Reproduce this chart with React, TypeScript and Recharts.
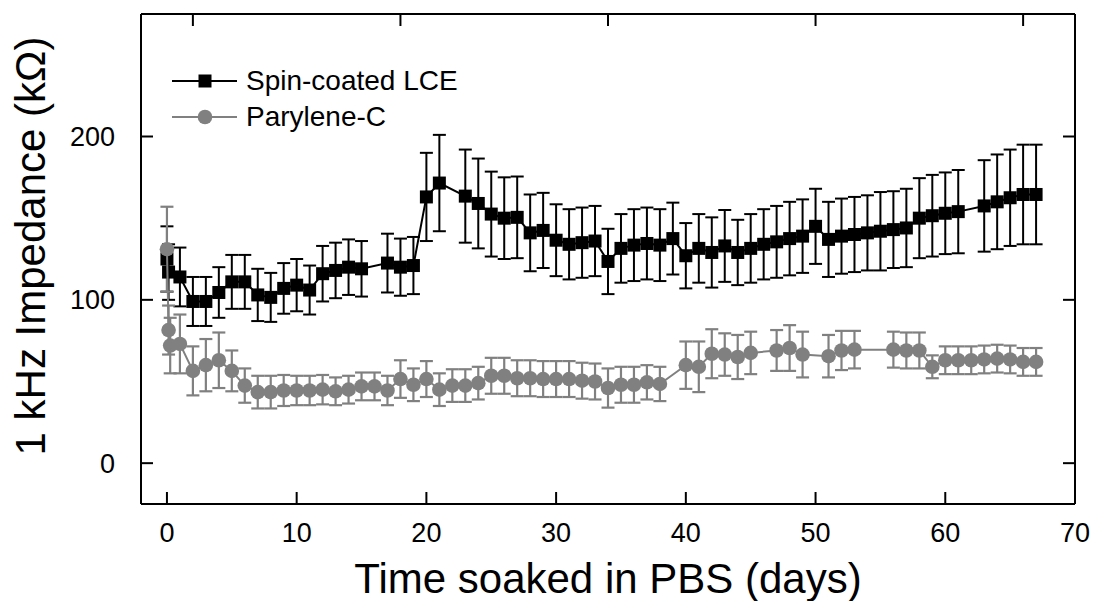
import React from "react";
import { ScatterChart, Scatter, XAxis, YAxis, ErrorBar, Legend } from "recharts";

const FONT = "'Liberation Sans', Arial, Helvetica, sans-serif";
const GRAY = "#808080";

// Spin-coated LCE (black squares)
const lceDays = [
  0, 0.125, 1, 2, 3, 4, 5, 6, 7, 8, 9, 10, 11, 12, 13, 14, 15, 17, 18, 19, 20, 21,
  23, 24, 25, 26, 27, 28, 29, 30, 31, 32, 33, 34, 35, 36, 37, 38, 39, 40, 41, 42,
  43, 44, 45, 46, 47, 48, 49, 50, 51, 52, 53, 54, 55, 56, 57, 58, 59, 60, 61,
  63, 64, 65, 66, 67,
];
const lceValues = [
  125, 117, 114, 99, 99, 104.5, 111, 111, 103, 101.5, 107, 109, 106, 116, 118, 120, 119, 122.5, 120, 121, 163, 171.5,
  163.5, 159, 152.5, 150, 150.5, 141, 142.5, 136.5, 134, 135, 136, 123.5, 131.5, 133.5, 134.5, 133.5, 137.5, 127, 131.5, 129,
  133, 129, 131.5, 134, 135.5, 137.5, 139, 145, 137, 139, 140, 141, 142, 143, 144, 150, 151.5, 153, 154,
  157.5, 160, 162.5, 164.5, 164.5,
];
const lceErrors = [
  20, 17, 18, 15, 15, 15.5, 16.5, 16.5, 16, 15, 15.5, 16, 15, 17, 17, 17, 17, 18, 17.5, 17.5, 27, 29.5,
  28.5, 27.5, 26, 25, 25, 23.5, 23, 22, 21.5, 21.5, 21.5, 20, 21, 22, 22, 22, 22, 20, 21, 21.5,
  22, 20, 21, 21.5, 22, 22.5, 22.5, 23, 23, 23, 23, 23, 24, 23.5, 24, 24.5, 25, 25, 25.5,
  28, 29, 29.5, 30.5, 30.5,
];

// Parylene-C (gray circles)
const parDays = [
  0, 0.125, 0.25, 1, 2, 3, 4, 5, 6, 7, 8, 9, 10, 11, 12, 13, 14, 15, 16, 17, 18, 19, 20,
  21, 22, 23, 24, 25, 26, 27, 28, 29, 30, 31, 32, 33, 34, 35, 36, 37, 38, 40, 41, 42,
  43, 44, 45, 47, 48, 49, 51, 52, 53, 56, 57, 58, 59, 60, 61, 62, 63, 64, 65, 66, 67,
];
const parValues = [
  131, 81.5, 72, 73, 56.5, 60, 63, 56.5, 47.5, 43.5, 43.5, 44.5, 44.5, 44.5, 45, 44, 45, 47, 47, 44.5, 51.5, 48, 51.5,
  45, 47.5, 47.5, 49, 53.5, 53.5, 52, 52, 51.5, 51.5, 51.5, 50.5, 50, 46, 48, 48, 49.5, 48.5, 60, 59, 67,
  66.5, 65, 67.5, 69, 70.5, 66.5, 65.5, 69, 69.5, 69.5, 69, 69, 59, 63, 63, 63, 63.5, 64, 63.5, 62, 62,
];
const parErrors = [
  26, 15, 17, 18, 15, 16, 17, 12.5, 10.5, 10, 10, 9.5, 9, 9, 9, 8.5, 8.5, 8.5, 8.5, 9, 11.5, 10, 11,
  10, 10, 10, 10, 11, 11, 11, 11, 11, 11, 11, 11, 11, 12, 11, 11, 10.5, 10.5, 14.5, 15.5, 15,
  13, 13.5, 13, 12.5, 14, 14, 13, 12, 11.5, 11, 11, 11, 7, 8.5, 8.5, 8.5, 8.5, 8.5, 8.5, 8.5, 8.5,
];

const xTicks = [0, 10, 20, 30, 40, 50, 60, 70];
const topTicks = [2, 18, 34, 50, 66];
const yTicks = [0, 100, 200];

const lceData = lceDays.map((day, i) => ({ day, value: lceValues[i], err: lceErrors[i] }));
const parData = parDays.map((day, i) => ({ day, value: parValues[i], err: parErrors[i] }));

const axisLine = { stroke: "#000", strokeWidth: 2 };
const TICK_LEN = 12;
const X_MARGIN = 19;
const Y_MARGIN = 26;

// inward tick marks drawn with the labels
const BottomTick = (p: any) => (
  <g>
    <line x1={p.x} x2={p.x} y1={p.y - X_MARGIN} y2={p.y - X_MARGIN - TICK_LEN} stroke="#000" strokeWidth={2} />
    <text x={p.x} y={p.y} dy="0.71em" textAnchor="middle" fontSize={27} fontFamily={FONT} fill="#000">
      {p.payload.value}
    </text>
  </g>
);
const LeftTick = (p: any) => (
  <g>
    <line x1={p.x + Y_MARGIN} x2={p.x + Y_MARGIN + TICK_LEN} y1={p.y} y2={p.y} stroke="#000" strokeWidth={2} />
    <text x={p.x} y={p.y} dy="0.355em" textAnchor="end" fontSize={27} fontFamily={FONT} fill="#000">
      {p.payload.value}
    </text>
  </g>
);
const TopTick = (p: any) => (
  <line x1={p.x} x2={p.x} y1={p.y} y2={p.y + TICK_LEN} stroke="#000" strokeWidth={2} />
);
const RightTick = (p: any) => (
  <line x1={p.x} x2={p.x - TICK_LEN} y1={p.y} y2={p.y} stroke="#000" strokeWidth={2} />
);

const SquareDot = (p: any) => <rect x={p.cx - 6.5} y={p.cy - 6.5} width={13} height={13} fill="#000" />;
const CircleDot = (p: any) => <circle cx={p.cx} cy={p.cy} r={7.3} fill={GRAY} />;

const renderLegend = () => (
  <div style={{ fontFamily: FONT, fontSize: 28, color: "#000" }}>
    <div style={{ display: "flex", alignItems: "center", height: 36 }}>
      <svg width={74} height={36}>
        <line x1={0} x2={65} y1={18} y2={18} stroke="#000" strokeWidth={2} />
        <rect x={26.5} y={11.5} width={13} height={13} fill="#000" />
      </svg>
      <span>Spin-coated LCE</span>
    </div>
    <div style={{ display: "flex", alignItems: "center", height: 36 }}>
      <svg width={74} height={36}>
        <line x1={0} x2={65} y1={18} y2={18} stroke={GRAY} strokeWidth={2} />
        <circle cx={33} cy={18} r={7.3} fill={GRAY} />
      </svg>
      <span>Parylene-C</span>
    </div>
  </div>
);

export default function App() {
  return (
    <div style={{ position: "absolute", left: 0, top: 0, width: 1093, height: 601, overflow: "hidden", background: "#fff" }}>
      <ScatterChart
        width={1093}
        height={601}
        margin={{ top: 13, right: 17, bottom: 0, left: 0 }}
        style={{ fontFamily: FONT }}
      >
        <XAxis
          xAxisId="bottom"
          dataKey="day"
          type="number"
          domain={[-2, 70]}
          ticks={xTicks}
          allowDataOverflow
          orientation="bottom"
          height={97}
          axisLine={axisLine}
          tickLine={false}
          tickSize={0}
          tickMargin={X_MARGIN}
          tick={BottomTick}
          label={{
            content: () => (
              <text x={608} y={593} textAnchor="middle" fontSize={42} fontFamily={FONT} fill="#000">
                Time soaked in PBS (days)
              </text>
            ),
          }}
        />
        <XAxis
          xAxisId="top"
          dataKey="day"
          type="number"
          domain={[-2, 70]}
          ticks={topTicks}
          allowDataOverflow
          orientation="top"
          height={1}
          axisLine={axisLine}
          tickLine={false}
          tickSize={0}
          tickMargin={0}
          tick={TopTick}
        />
        <YAxis
          yAxisId="left"
          dataKey="value"
          type="number"
          domain={[-25, 275]}
          ticks={yTicks}
          allowDataOverflow
          orientation="left"
          width={141}
          axisLine={axisLine}
          tickLine={false}
          tickSize={0}
          tickMargin={Y_MARGIN}
          tick={LeftTick}
          label={{
            content: () => (
              <text
                x={45}
                y={246}
                transform="rotate(-90, 45, 246)"
                textAnchor="middle"
                fontSize={42}
                fontFamily={FONT}
                fill="#000"
              >
                1 kHz Impedance (kΩ)
              </text>
            ),
          }}
        />
        <YAxis
          yAxisId="right"
          dataKey="value"
          type="number"
          domain={[-25, 275]}
          ticks={yTicks}
          allowDataOverflow
          orientation="right"
          width={1}
          axisLine={axisLine}
          tickLine={false}
          tickSize={0}
          tickMargin={0}
          tick={RightTick}
        />
        <Legend
          content={renderLegend}
          layout="horizontal"
          verticalAlign="middle"
          wrapperStyle={{ left: 172, top: 63, width: "auto" }}
        />
        <Scatter
          name="Spin-coated LCE"
          data={lceData}
          xAxisId="bottom"
          yAxisId="left"
          fill="#000"
          shape={SquareDot}
          line={{ stroke: "#000", strokeWidth: 2 }}
          isAnimationActive={false}
        >
          <ErrorBar dataKey="err" direction="y" width={6.5} stroke="#000" strokeWidth={2} isAnimationActive={false} />
        </Scatter>
        <Scatter
          name="Parylene-C"
          data={parData}
          xAxisId="top"
          yAxisId="right"
          fill={GRAY}
          shape={CircleDot}
          line={{ stroke: GRAY, strokeWidth: 2 }}
          isAnimationActive={false}
        >
          <ErrorBar dataKey="err" direction="y" width={6.5} stroke={GRAY} strokeWidth={2.2} isAnimationActive={false} />
        </Scatter>
      </ScatterChart>
    </div>
  );
}
